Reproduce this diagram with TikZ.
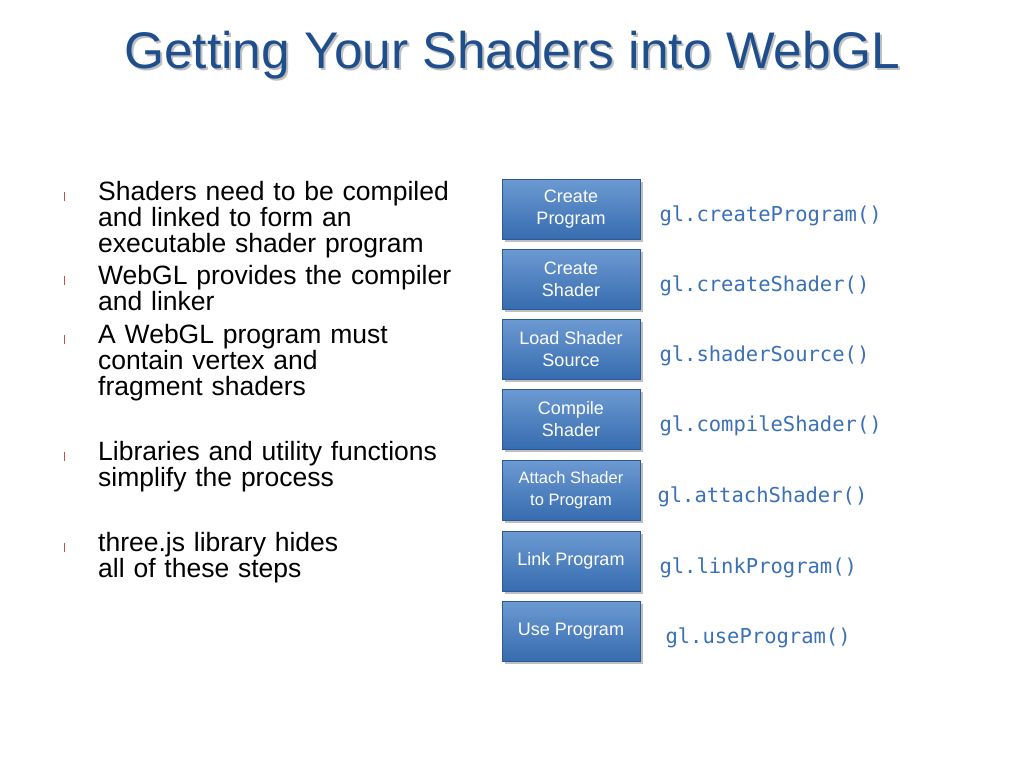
\documentclass[tikz,border=0pt]{standalone}
\usepackage{fontspec}
\setmainfont{Liberation Sans}
\newfontfamily\codefont{DejaVu Sans Mono}
\definecolor{boxblue}{HTML}{3C78C3}
\definecolor{boxedge}{HTML}{2A5A96}
\definecolor{codeblue}{HTML}{3A70B5}
\definecolor{titleblue}{HTML}{1F4E8C}
\definecolor{bulred}{HTML}{C0504D}
\begin{document}
\begin{tikzpicture}[x=1pt,y=-1pt,
  stepbox/.style={draw=boxedge,line width=0.8pt,top color=boxblue!75!white,bottom color=boxblue!90!black,
    minimum width=138pt,minimum height=60pt,text=white,align=center,font=\fontsize{18}{22}\selectfont,
    inner sep=2pt},
  code/.style={anchor=west,text=codeblue,font=\codefont\fontsize{20.5}{22}\selectfont},
  bul/.style={anchor=north west,align=left,font=\fontsize{26.5}{26}\selectfont,text width=400pt,inner sep=0pt},
  bulmark/.style={fill=bulred,minimum width=1pt,minimum height=9pt,inner sep=0pt}]
\useasboundingbox (0,0) rectangle (1024,768);
\node[text=gray!50,font=\fontsize{51.5}{54}\selectfont] (tsh) at (514,57) {Getting Your Shaders into WebGL};
\node[text=titleblue,font=\fontsize{51.5}{54}\selectfont] (title) at (512,55) {Getting Your Shaders into WebGL};
\foreach \y/\t [count=\i] in {181/{Shaders need to be compiled\\and linked to form an\\executable shader program},
  265/{WebGL provides the compiler\\and linker},
  324/{A WebGL program must\\contain vertex and\\fragment shaders},
  441/{Libraries and utility functions\\simplify the process},
  532/{three.js library hides\\all of these steps}}{
  \node[bulmark] (m\i) at (64,\y+15) {};
  \node[bul] (b\i) at (98,\y) {\t};
}
\foreach \y/\t/\c/\cx [count=\i] in {
  209/{Create\\Program}/{gl.createProgram()}/656,
  279/{Create\\Shader}/{gl.createShader()}/656,
  349/{Load Shader\\Source}/{gl.shaderSource()}/656,
  419/{Compile\\Shader}/{gl.compileShader()}/656,
  490/{\fontsize{16.5}{22}\selectfont Attach Shader\\\fontsize{16.5}{22}\selectfont to Program}/{gl.attachShader()}/654,
  561/{Link Program}/{gl.linkProgram()}/656,
  631/{Use Program}/{gl.useProgram()}/662}{
  \fill[black!25] (505,\y-27) rectangle (643,\y+33);
  \node[stepbox] (s\i) at (571,\y) {\t};
  \node[code] (c\i) at (\cx,\y+7) {\c};
}
\end{tikzpicture}
\end{document}
